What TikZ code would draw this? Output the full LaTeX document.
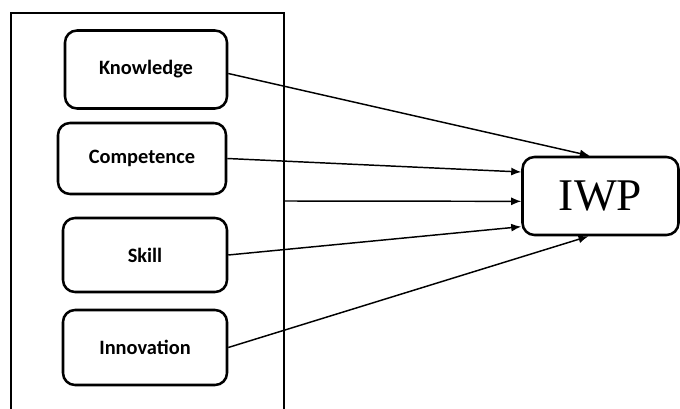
\documentclass[tikz,border=0pt]{standalone}
\usepackage{fontspec}
\newfontfamily\labelfont{Carlito}
\newfontfamily\iwpfont{Liberation Serif}
\usepackage{tikz}
\usetikzlibrary{arrows.meta}

\begin{document}
\begin{tikzpicture}[x=0.75pt,y=-0.75pt,
    factor/.style={draw,line width=1.9pt,rounded corners=9pt,font=\labelfont\bfseries\fontsize{15.3pt}{17pt}\selectfont},
    link/.style={line width=1.1pt,-{Latex[length=7.5pt,width=6pt]}}]
    \useasboundingbox (0,0) rectangle (680,409);
    \draw[line width=1.8pt] (11,409) -- (11,13) -- (284,13) -- (284,409);
    \node[factor,minimum width=121.5pt,minimum height=58.5pt] (K) at (146,69.5) {Knowledge};
    \node[factor,minimum width=126pt,minimum height=53.25pt] (C) at (142,158.5) {Competence};
    \node[factor,minimum width=123pt,minimum height=55.5pt] (S) at (145,255) {Skill};
    \node[factor,minimum width=123pt,minimum height=56.25pt] (I) at (145,347.5) {Innovation};
    \node[draw,line width=1.9pt,rounded corners=9pt,minimum width=117pt,minimum height=58.5pt,
      font=\iwpfont\fontsize{34pt}{37pt}\selectfont] (IWP) at (600.5,196) {IWP};
    \coordinate (F) at (285,201);
    \draw[link] ([yshift=-3pt]K.east) -- ([xshift=-8pt]IWP.north);
    \draw[link] (C.east) -- ([yshift=18pt]IWP.west);
    \draw[link] (F) -- ([yshift=-4pt]IWP.west);
    \draw[link] (S.east) -- ([yshift=-23pt]IWP.west);
    \draw[link] (I.east) -- ([xshift=-9pt]IWP.south);
\end{tikzpicture}
\end{document}
